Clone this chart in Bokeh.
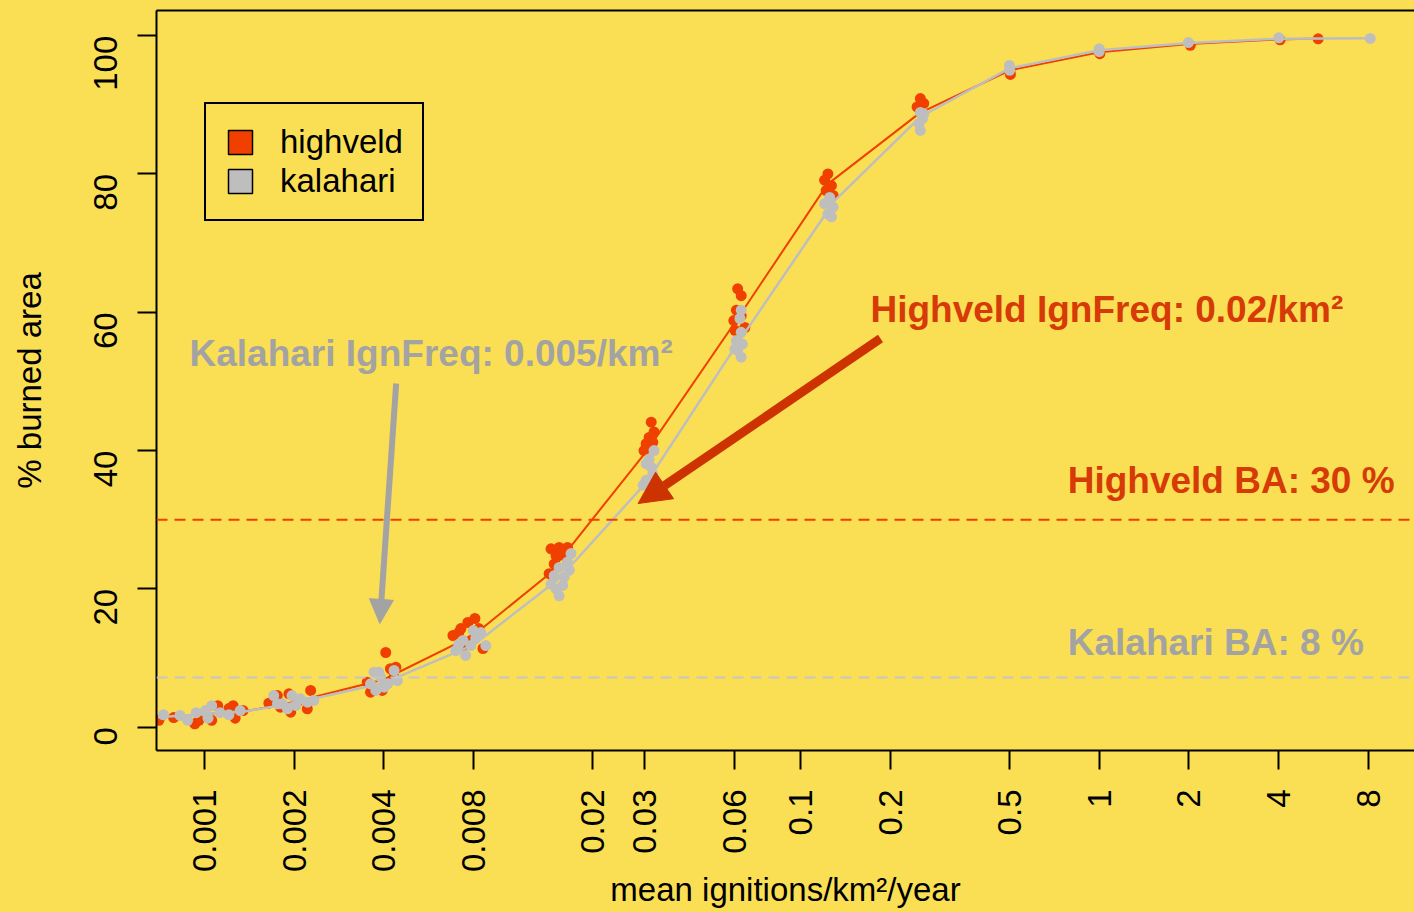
import math
from bokeh.plotting import figure
from bokeh.models import (Range1d, FixedTicker, CustomJSTickFormatter, LogAxis, Span,
                          Label, Arrow, NormalHead, Legend, LegendItem)
from bokeh.embed import file_html
from bokeh.resources import INLINE

# ---------------- data ----------------
x_ticks = [0.001, 0.002, 0.004, 0.008, 0.02, 0.03, 0.06, 0.1, 0.2, 0.5, 1, 2, 4, 8]
x_tick_labels = ["0.001", "0.002", "0.004", "0.008", "0.02", "0.03", "0.06", "0.1",
                 "0.2", "0.5", "1", "2", "4", "8"]
y_ticks = [0, 20, 40, 60, 80, 100]

# mean curves
highveld_line_x = [0.00070, 0.00138, 0.002, 0.004, 0.008, 0.0142, 0.0305, 0.0605,
                   0.1227, 0.250, 0.502, 1.0, 2.0, 4.0, 5.42]
highveld_line_y = [1.4, 2.3, 3.65, 6.9, 13.3, 22.0, 40.0, 58.7, 78.5, 88.8, 95.0,
                   97.6, 98.8, 99.45, 99.6]
kalahari_line_x = [0.00070, 0.00138, 0.002, 0.004, 0.008, 0.0155, 0.0305, 0.0605,
                   0.1296, 0.252, 0.502, 1.0, 2.0, 4.0, 8.1]
kalahari_line_y = [1.45, 2.3, 3.5, 6.4, 11.9, 21.5, 35.5, 55.1, 76.1, 88.3, 95.3,
                   97.9, 98.95, 99.55, 99.64]

# individual simulation results
highveld_x = [0.000705, 0.00079, 0.00093, 0.00096, 0.00106, 0.00111, 0.00121, 0.00125, 0.00127, 0.00135,
              0.001647, 0.001758, 0.001923, 0.00195, 0.002274, 0.002216, 0.002052, 0.00180,
              0.00406, 0.00421, 0.00439, 0.00361, 0.00395, 0.00352, 0.00433,
              0.00682, 0.00725, 0.00765, 0.00808, 0.00833, 0.0086, 0.00783, 0.00737, 0.00713,
              0.01454, 0.01548, 0.01651, 0.01511, 0.01610, 0.01433, 0.01490,
              0.0315, 0.0322, 0.0310, 0.0303, 0.0319, 0.0298,
              0.0614, 0.0631, 0.0608, 0.0631, 0.0596, 0.0649, 0.0601,
              0.1232, 0.1201, 0.1266, 0.1215, 0.1283,
              0.2515, 0.2581, 0.2452,
              0.504, 0.502, 1.005, 2.02, 4.04, 5.42]
highveld_y = [1.0, 1.4, 0.5, 1.0, 1.0, 3.1, 2.7, 3.1, 1.3, 2.4,
              3.47, 4.58, 4.83, 2.17, 5.31, 2.66, 3.62, 2.89,
              10.8, 8.45, 8.68, 5.06, 5.31, 6.5, 7.23,
              13.26, 14.27, 15.14, 15.72, 14.27, 11.38, 12.54, 11.81, 13.69,
              25.8, 26.0, 26.0, 24.8, 24.8, 22.2, 23.6,
              44.1, 42.7, 41.9, 41.0, 41.2, 40.0,
              63.4, 62.4, 60.3, 59.5, 58.8, 57.8, 57.4,
              80.0, 79.1, 78.3, 77.6, 76.9,
              90.9, 90.2, 89.7,
              94.4, 94.8, 97.4, 98.6, 99.4, 99.55]
kalahari_x = [0.00073, 0.00083, 0.00088, 0.00094, 0.00101, 0.00106, 0.00113, 0.00121, 0.00132, 0.00103,
              0.00171, 0.00183, 0.00197, 0.00190, 0.00210, 0.00222, 0.00233, 0.00203, 0.00176,
              0.00371, 0.00361, 0.00390, 0.00376, 0.00412, 0.00433, 0.00444, 0.00401, 0.00385,
              0.00697, 0.00737, 0.00783, 0.00813, 0.00846, 0.00752, 0.00879, 0.00798, 0.00713,
              0.01697, 0.01651, 0.01548, 0.01490, 0.01454, 0.01511, 0.01548, 0.01610, 0.01675, 0.01591,
              0.0322, 0.0310, 0.0315, 0.0303, 0.0319, 0.0303, 0.0296,
              0.0631, 0.0625, 0.0631, 0.0608, 0.0637, 0.0614, 0.0631, 0.0601,
              0.1249, 0.1201, 0.1283, 0.1232, 0.1266,
              0.2515, 0.2554, 0.2491, 0.2515, 0.2581,
              0.500, 0.501, 1.0, 1.0, 1.99, 4.0, 8.1]
kalahari_y = [1.8, 1.7, 1.0, 2.1, 2.4, 3.1, 2.1, 1.8, 2.4, 1.3,
              4.58, 3.38, 4.58, 2.66, 4.1, 3.62, 3.86, 3.14, 3.38,
              7.95, 6.28, 7.23, 5.31, 6.28, 8.2, 6.75, 5.78, 7.95,
              11.09, 12.54, 11.81, 12.83, 13.69, 10.37, 11.81, 13.98, 11.96,
              25.1, 23.9, 23.1, 21.9, 20.7, 20.0, 19.0, 21.7, 22.7, 20.5,
              40.0, 38.8, 37.6, 38.1, 36.6, 35.7, 35.0,
              60.3, 59.1, 57.1, 55.9, 55.4, 54.5, 53.5, 54.7,
              76.6, 75.7, 75.2, 74.2, 73.8,
              88.9, 88.0, 87.3, 86.3, 88.7,
              95.7, 95.0, 98.1, 97.7, 99.0, 99.7, 99.6]

highveld_ba = 30.0
kalahari_ba_line = 7.2

# ---------------- style ----------------
BG = "#FADF54"
RED = "#F04000"
RED_TXT = "#D63A06"
RED_ARROW = "#CC3300"
GREY = "#BEBEBE"
GREY_TXT = "#A3A3A3"
FONT = "Liberation Sans"

p = figure(width=1414, height=912, x_axis_type="log",
           x_range=Range1d(0.000692, 11.4), y_range=Range1d(-3.37, 103.64),
           output_backend="svg", toolbar_location=None,
           min_border_left=156, min_border_right=0, min_border_top=10, min_border_bottom=162,
           x_axis_label="mean ignitions/km\u00b2/year", y_axis_label="% burned area")
p.background_fill_color = BG
p.border_fill_color = BG
p.outline_line_color = None
p.xgrid.visible = False
p.ygrid.visible = False

for ax in (p.xaxis[0], p.yaxis[0]):
    ax.axis_line_color = "black"
    ax.axis_line_width = 2
    ax.major_tick_line_color = "black"
    ax.major_tick_line_width = 2
    ax.major_tick_in = 0
    ax.major_tick_out = 19
    ax.minor_tick_line_color = None
    ax.major_label_text_font = FONT
    ax.major_label_text_font_size = "33px"
    ax.major_label_text_color = "black"
    ax.axis_label_text_font = FONT
    ax.axis_label_text_font_size = "33px"
    ax.axis_label_text_font_style = "normal"
    ax.axis_label_text_color = "black"
    ax.major_label_orientation = math.pi / 2

xa = p.xaxis[0]
xa.ticker = FixedTicker(ticks=x_ticks)
xa.formatter = CustomJSTickFormatter(
    args=dict(tick_vals=x_ticks, tick_texts=x_tick_labels),
    code="""
    for (let i = 0; i < tick_vals.length; i++) {
        if (Math.abs(tick_vals[i] - tick) <= 1e-9 * Math.abs(tick_vals[i])) return tick_texts[i];
    }
    return '';
    """)
xa.major_label_standoff = 20
xa.axis_label_standoff = -4

ya = p.yaxis[0]
ya.ticker = FixedTicker(ticks=y_ticks)
ya.major_label_standoff = 32
ya.axis_label_standoff = 32

top_ax = LogAxis(ticker=FixedTicker(ticks=[]), major_tick_in=0, major_tick_out=0,
                 minor_tick_in=0, minor_tick_out=0, major_label_standoff=0,
                 axis_line_color="black", axis_line_width=2,
                 major_label_text_font_size="0px")
p.add_layout(top_ax, "above")

# reference lines
p.add_layout(Span(location=highveld_ba, dimension="width", line_color=RED,
                  line_dash="11 7", line_width=2))
p.add_layout(Span(location=kalahari_ba_line, dimension="width", line_color="#C6C6C6",
                  line_dash="11 7", line_width=2))

# data
p.line(highveld_line_x, highveld_line_y, line_color=RED, line_width=2)
p.scatter(highveld_x, highveld_y, size=11, fill_color=RED, line_color=None)
p.line(kalahari_line_x, kalahari_line_y, line_color=GREY, line_width=2.5)
p.scatter(kalahari_x, kalahari_y, size=11, fill_color=GREY, line_color=None)

# legend with square keys (proxy renderers that draw nothing in the plot)
nan = float("nan")
leg_h = p.quad(left=[nan], right=[nan], top=[nan], bottom=[nan],
               fill_color=RED, line_color="black", line_width=1.5)
leg_k = p.quad(left=[nan], right=[nan], top=[nan], bottom=[nan],
               fill_color=GREY, line_color="black", line_width=1.5)
legend = Legend(items=[LegendItem(label="highveld", renderers=[leg_h]),
                       LegendItem(label="kalahari", renderers=[leg_k])],
                location=(48, 529), margin=0, padding=19, spacing=1,
                glyph_width=30, glyph_height=30, label_height=30, label_standoff=25,
                label_text_font=FONT, label_text_font_size="33px", label_text_color="black",
                border_line_color="black", border_line_width=2, border_line_alpha=1.0,
                background_fill_alpha=0)
p.add_layout(legend)

# annotations
p.add_layout(Label(x=0.000893, y=54.04, text="Kalahari IgnFreq: 0.005/km\u00b2",
                   text_font=FONT, text_font_style="bold", text_font_size="37px",
                   text_color=GREY_TXT, text_baseline="alphabetic"))
p.add_layout(Label(x=0.1711, y=60.37, text="Highveld IgnFreq: 0.02/km\u00b2",
                   text_font=FONT, text_font_style="bold", text_font_size="37px",
                   text_color=RED_TXT, text_baseline="alphabetic"))
p.add_layout(Label(x=0.7844, y=35.67, text="Highveld BA: 30 %",
                   text_font=FONT, text_font_style="bold", text_font_size="37px",
                   text_color=RED_TXT, text_baseline="alphabetic"))
p.add_layout(Label(x=0.7844, y=12.25, text="Kalahari BA: 8 %",
                   text_font=FONT, text_font_style="bold", text_font_size="37px",
                   text_color=GREY_TXT, text_baseline="alphabetic"))

p.add_layout(Arrow(x_start=0.0044, y_start=49.7, x_end=0.003878, y_end=15.0,
                   line_color=GREY_TXT, line_width=6,
                   end=NormalHead(size=24, fill_color=GREY_TXT, line_color=GREY_TXT)))
p.add_layout(Arrow(x_start=0.1849, y_start=56.2, x_end=0.02848, y_end=32.35,
                   line_color=RED_ARROW, line_width=9,
                   end=NormalHead(size=32, fill_color=RED_ARROW, line_color=RED_ARROW)))

html = file_html(p, INLINE)
html = html.replace("<head>", "<head><style>html, body { background: %s; }</style>" % BG, 1)
open("out.html", "w").write(html)
